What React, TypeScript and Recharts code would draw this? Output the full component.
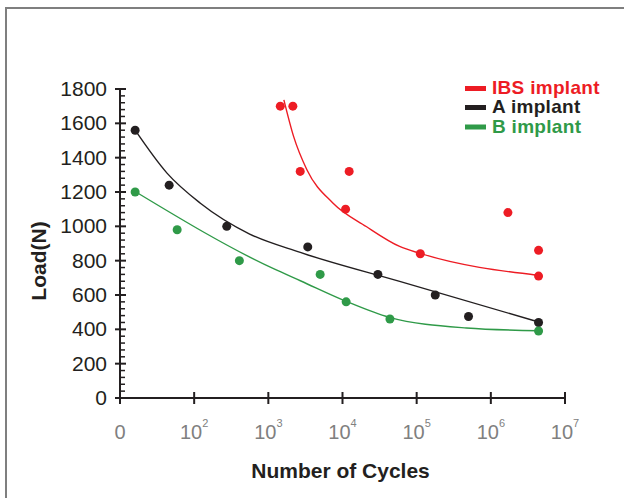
import React from 'react';
import { ComposedChart, XAxis, YAxis, Scatter, Line, Label } from 'recharts';

// measured points (cycles, load in N)
const ibsCycles = [1450, 2140, 2690, 12300, 11000, 112000, 1700000, 4400000, 4400000];
const ibsLoad = [1700, 1700, 1320, 1320, 1100, 840, 1080, 860, 710];
const aCycles = [16, 46, 275, 3400, 30000, 178000, 500000, 4400000];
const aLoad = [1560, 1240, 1000, 880, 720, 600, 475, 440];
const bCycles = [16, 59, 407, 5000, 11200, 43600, 4400000];
const bLoad = [1200, 980, 800, 720, 560, 460, 390];

// trend curves
const ibsFitCycles = [1620, 2190, 3310, 7410, 20900, 58900, 112000, 4400000];
const ibsFitLoad = [1737, 1524, 1330, 1136, 999, 883, 842, 714];
const aFitCycles = [16, 43, 120, 560, 2700, 59000, 4400000];
const aFitLoad = [1560, 1310, 1136, 955, 848, 679, 443];
const bFitCycles = [16, 1175, 2700, 11200, 42700, 468000, 4400000];
const bFitLoad = [1203, 753, 683, 563, 470, 408, 392];

const xTicks = [10, 100, 1000, 10000, 100000, 1000000, 10000000];
const yTicks = Array.from({ length: 46 }, (_, i) => i * 40);

const RED = '#ed1c24';
const BLACK = '#231f20';
const GREEN = '#2f9a48';
const FONT = '"Liberation Sans", Arial, sans-serif';

const zip = (xs: number[], ys: number[]) => xs.map((n, i) => ({ n, load: ys[i] }));

const YTick = ({ x, y, payload }: any) => {
  const v = payload.value;
  const major = v % 200 === 0;
  return (
    <g>
      {major ? (
        <line x1={x - 5} x2={x + 6} y1={y} y2={y} stroke={BLACK} strokeWidth={2} />
      ) : (
        <line x1={x} x2={x + 5} y1={y} y2={y} stroke={BLACK} strokeWidth={1.5} />
      )}
      {major && (
        <text x={x - 13} y={y + 7} textAnchor="end" fontSize={21} fill={BLACK} fontFamily={FONT}>
          {v}
        </text>
      )}
    </g>
  );
};

const XTick = ({ x, y, payload }: any) => {
  const e = Math.round(Math.log10(payload.value));
  return (
    <g>
      <line x1={x} x2={x} y1={y - 6} y2={y + 6} stroke={BLACK} strokeWidth={2} />
      <text x={x} y={y + 41} textAnchor="middle" fontSize={20} fill="#808080" fontFamily={FONT} fontWeight={300}>
        {e === 1 ? '0' : '10'}
        {e !== 1 && (
          <tspan dy={-12} fontSize={11}>
            {e}
          </tspan>
        )}
      </text>
    </g>
  );
};

const legendItems = [
  { name: 'IBS implant', color: RED, y: 94 },
  { name: 'A implant', color: BLACK, y: 113 },
  { name: 'B implant', color: GREEN, y: 132.5 },
];

export default function App() {
  return (
    <div style={{ position: 'absolute', left: 0, top: 0, width: 624, height: 498, background: '#fff', overflow: 'hidden' }}>
      <div
        style={{
          position: 'absolute', left: 5, top: 7, width: 700, height: 600,
          borderTop: '2px solid #7f7f7f', borderLeft: '2px solid #7f7f7f',
        }}
      />
      <div style={{ position: 'absolute', left: 0, top: 0 }}>
        <ComposedChart width={624} height={498} margin={{ top: 89, right: 59, bottom: 0, left: 0 }}>
          <XAxis
            type="number"
            dataKey="n"
            scale="log"
            domain={[10, 10000000]}
            allowDataOverflow
            ticks={xTicks}
            tick={<XTick />}
            tickSize={0}
            tickMargin={0}
            tickLine={false}
            axisLine={{ stroke: BLACK, strokeWidth: 2 }}
            height={100}
            interval={0}
          >
            <Label
              content={({ viewBox }: any) => (
                <text
                  x={viewBox.x + viewBox.width / 2 - 2}
                  y={viewBox.y + 80}
                  textAnchor="middle"
                  fontSize={21}
                  fontWeight="bold"
                  fill={BLACK}
                  fontFamily={FONT}
                >
                  Number of Cycles
                </text>
              )}
            />
          </XAxis>
          <YAxis
            type="number"
            dataKey="load"
            domain={[0, 1800]}
            ticks={yTicks}
            tick={<YTick />}
            tickSize={0}
            tickMargin={0}
            tickLine={false}
            axisLine={{ stroke: BLACK, strokeWidth: 2 }}
            width={120}
            interval={0}
          >
            <Label
              content={() => (
                <text
                  x={46}
                  y={261}
                  transform="rotate(-90, 46, 261)"
                  textAnchor="middle"
                  fontSize={21}
                  fontWeight="bold"
                  fill={BLACK}
                  fontFamily={FONT}
                >
                  Load(N)
                </text>
              )}
            />
          </YAxis>
          <Line data={zip(ibsFitCycles, ibsFitLoad)} dataKey="load" type="monotone" stroke={RED} strokeWidth={1.4} dot={false} isAnimationActive={false} />
          <Line data={zip(aFitCycles, aFitLoad)} dataKey="load" type="monotone" stroke={BLACK} strokeWidth={1.4} dot={false} isAnimationActive={false} />
          <Line data={zip(bFitCycles, bFitLoad)} dataKey="load" type="monotone" stroke={GREEN} strokeWidth={1.4} dot={false} isAnimationActive={false} />
          <Scatter data={zip(ibsCycles, ibsLoad)} dataKey="load" fill={RED} isAnimationActive={false}
            shape={(p: any) => <circle cx={p.cx} cy={p.cy} r={4.5} fill={RED} />} />
          <Scatter data={zip(aCycles, aLoad)} dataKey="load" fill={BLACK} isAnimationActive={false}
            shape={(p: any) => <circle cx={p.cx} cy={p.cy} r={4.5} fill={BLACK} />} />
          <Scatter data={zip(bCycles, bLoad)} dataKey="load" fill={GREEN} isAnimationActive={false}
            shape={(p: any) => <circle cx={p.cx} cy={p.cy} r={4.5} fill={GREEN} />} />
        </ComposedChart>
      </div>
      <svg style={{ position: 'absolute', left: 0, top: 0 }} width={624} height={498}>
        {legendItems.map((it) => (
          <g key={it.name}>
            <rect x={465} y={it.y - 8} width={21} height={5} fill={it.color} />
            <text x={492} y={it.y} fontSize={19} letterSpacing={0.3} fontWeight="bold" fill={it.color} fontFamily={FONT}>
              {it.name}
            </text>
          </g>
        ))}
      </svg>
    </div>
  );
}
